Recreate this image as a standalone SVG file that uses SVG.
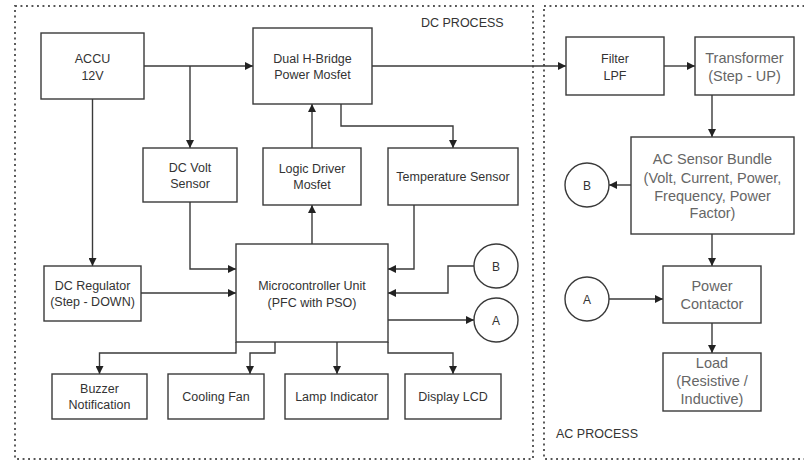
<svg xmlns="http://www.w3.org/2000/svg" width="804" height="461" viewBox="0 0 804 461">
<style>
.box{fill:#fff;stroke:#3a3a3a;stroke-width:1.4}
.cont{fill:none;stroke:#555;stroke-width:1.9;stroke-dasharray:1.9 3.6}
.t{font-family:"Liberation Sans",Arial,sans-serif;font-size:12.5px;fill:#333;text-anchor:middle}
.ta{font-family:"Liberation Sans",Arial,sans-serif;font-size:14.5px;fill:#666;text-anchor:middle}
.lbl{font-family:"Liberation Sans",Arial,sans-serif;font-size:12.5px;fill:#333}
.c{fill:none;stroke:#3a3a3a;stroke-width:1.4}
</style>
<defs>
<marker id="ar" viewBox="0 0 10 10" refX="10" refY="5" markerWidth="8" markerHeight="8" markerUnits="userSpaceOnUse" orient="auto">
<path d="M0,0 L10,5 L0,10 Z" fill="#222"/>
</marker>
</defs>
<rect width="804" height="461" fill="#fff"/>
<g id="dc-process">
<rect class="cont" x="15" y="6" width="518" height="453"/>
<text class="lbl" x="421" y="27">DC PROCESS</text>
</g>
<g id="ac-process">
<rect class="cont" x="544" y="6" width="270" height="453"/>
<text class="lbl" x="556" y="438">AC PROCESS</text>
</g>
<g id="connectors">
<path class="c" d="M144,66 H253" marker-end="url(#ar)"/>
<path class="c" d="M190,66 V148" marker-end="url(#ar)"/>
<path class="c" d="M92.5,99 V266" marker-end="url(#ar)"/>
<path class="c" d="M312,148 V104" marker-end="url(#ar)"/>
<path class="c" d="M312,244 V205" marker-end="url(#ar)"/>
<path class="c" d="M341,104 V126 H453 V148" marker-end="url(#ar)"/>
<path class="c" d="M372,66 H566" marker-end="url(#ar)"/>
<path class="c" d="M664,66 H695" marker-end="url(#ar)"/>
<path class="c" d="M712,95 V137" marker-end="url(#ar)"/>
<path class="c" d="M631,185 H609" marker-end="url(#ar)"/>
<path class="c" d="M712,234 V266" marker-end="url(#ar)"/>
<path class="c" d="M609,299 H663" marker-end="url(#ar)"/>
<path class="c" d="M712,323 V353" marker-end="url(#ar)"/>
<path class="c" d="M190,202 V269 H236" marker-end="url(#ar)"/>
<path class="c" d="M141,293 H236" marker-end="url(#ar)"/>
<path class="c" d="M414,205 V269 H388" marker-end="url(#ar)"/>
<path class="c" d="M474,266 H448 V293 H388" marker-end="url(#ar)"/>
<path class="c" d="M388,320 H474" marker-end="url(#ar)"/>
<path class="c" d="M388,342 V353 H453 V374" marker-end="url(#ar)"/>
<path class="c" d="M236,342 V353 H99.5 V374" marker-end="url(#ar)"/>
<path class="c" d="M275,342 V353 H250 V374" marker-end="url(#ar)"/>
<path class="c" d="M337,342 V374" marker-end="url(#ar)"/>
</g>
<g id="accu">
<rect class="box" x="41" y="33" width="103" height="66"/>
<text class="t" x="92.5" y="62.5">ACCU</text>
<text class="t" x="92.5" y="79.5">12V</text>
</g>
<g id="hbridge">
<rect class="box" x="253" y="28" width="119" height="76"/>
<text class="t" x="312.5" y="62.5">Dual H-Bridge</text>
<text class="t" x="312.5" y="78.5">Power Mosfet</text>
</g>
<g id="dcvolt">
<rect class="box" x="143" y="148" width="94" height="54"/>
<text class="t" x="190" y="171.5">DC Volt</text>
<text class="t" x="190" y="187.5">Sensor</text>
</g>
<g id="logicdriver">
<rect class="box" x="263" y="148" width="98" height="57"/>
<text class="t" x="312" y="172.5">Logic Driver</text>
<text class="t" x="312" y="188.5">Mosfet</text>
</g>
<g id="tempsensor">
<rect class="box" x="388" y="148" width="130" height="57"/>
<text class="t" x="453" y="180.5">Temperature Sensor</text>
</g>
<g id="mcu">
<rect class="box" x="236" y="244" width="152" height="98"/>
<text class="t" x="312" y="289.5">Microcontroller Unit</text>
<text class="t" x="312" y="306.5">(PFC with PSO)</text>
</g>
<g id="regulator">
<rect class="box" x="44" y="266" width="97" height="55"/>
<text class="t" x="92.5" y="289.5">DC Regulator</text>
<text class="t" x="92.5" y="305.5">(Step - DOWN)</text>
</g>
<g id="buzzer">
<rect class="box" x="52" y="374" width="95" height="45"/>
<text class="t" x="99.5" y="392.5">Buzzer</text>
<text class="t" x="99.5" y="408.5">Notification</text>
</g>
<g id="fan">
<rect class="box" x="168" y="374" width="96" height="45"/>
<text class="t" x="216" y="400.5">Cooling Fan</text>
</g>
<g id="lamp">
<rect class="box" x="285" y="374" width="103" height="45"/>
<text class="t" x="336.5" y="400.5">Lamp Indicator</text>
</g>
<g id="lcd">
<rect class="box" x="405" y="374" width="96" height="45"/>
<text class="t" x="453" y="400.5">Display LCD</text>
</g>
<g id="circle-b-dc">
<circle class="box" cx="496" cy="266" r="22"/>
<text class="t" x="496" y="270.5" style="font-size:12px">B</text>
</g>
<g id="circle-a-dc">
<circle class="box" cx="496" cy="320" r="22"/>
<text class="t" x="496" y="324.5" style="font-size:12px">A</text>
</g>
<g id="filter">
<rect class="box" x="566" y="37" width="98" height="58"/>
<text class="t" x="615" y="62.5">Filter</text>
<text class="t" x="615" y="79.5">LPF</text>
</g>
<g id="transformer">
<rect class="box" x="695" y="37" width="99" height="58"/>
<text class="ta" x="744.5" y="63">Transformer</text>
<text class="ta" x="744.5" y="81">(Step - UP)</text>
</g>
<g id="acsensor">
<rect class="box" x="631" y="137" width="163" height="97"/>
<text class="ta" x="712.5" y="164">AC Sensor Bundle</text>
<text class="ta" x="712.5" y="183">(Volt, Current, Power,</text>
<text class="ta" x="712.5" y="201">Frequency, Power</text>
<text class="ta" x="712.5" y="218">Factor)</text>
</g>
<g id="circle-b-ac">
<circle class="box" cx="587" cy="185" r="22"/>
<text class="t" x="587" y="189.5" style="font-size:12px">B</text>
</g>
<g id="contactor">
<rect class="box" x="663" y="266" width="98" height="57"/>
<text class="ta" x="712" y="291">Power</text>
<text class="ta" x="712" y="309">Contactor</text>
</g>
<g id="circle-a-ac">
<circle class="box" cx="587" cy="299" r="22"/>
<text class="t" x="587" y="303.5" style="font-size:12px">A</text>
</g>
<g id="load">
<rect class="box" x="663" y="353" width="98" height="58"/>
<text class="ta" x="712" y="368">Load</text>
<text class="ta" x="712" y="386">(Resistive /</text>
<text class="ta" x="712" y="404">Inductive)</text>
</g>
</svg>
